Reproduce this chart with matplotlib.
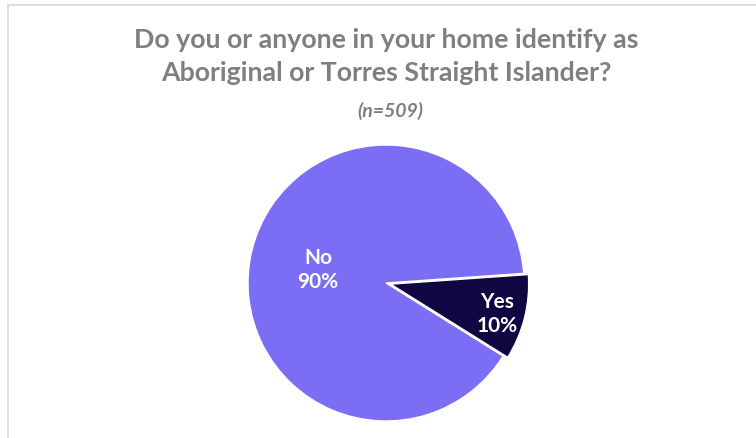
import matplotlib
matplotlib.use("Agg")
import matplotlib.pyplot as plt
from matplotlib.patches import Rectangle

labels = ["Yes", "No"]
values = [10, 90]
colors = ["#0F0642", "#7B6EF4"]

W, H = 756, 439
fig = plt.figure(figsize=(W / 100, H / 100), dpi=100)
fig.patch.set_facecolor("white")

# light border (extends beyond right/bottom edges)
fig.patches.append(Rectangle((8 / W, -0.1), 1.2, (H - 6) / H + 0.1, transform=fig.transFigure,
                             fill=False, edgecolor="#D9D9D9", linewidth=1.2))

title_font = ["Lato", "DejaVu Sans"]
fig.text(386 / W, 1 - 40 / H, "Do you or anyone in your home identify as", ha="center", va="center",
         fontsize=19.3, fontweight="bold", color="#7F7F7F", family=title_font)
fig.text(386 / W, 1 - 73 / H, "Aboriginal or Torres Straight Islander?", ha="center", va="center",
         fontsize=19.3, fontweight="bold", color="#7F7F7F", family=title_font)
fig.text(390 / W, 1 - 111 / H, "(n=509)", ha="center", va="center",
         fontsize=14, fontweight="bold", style="italic", color="#7F7F7F", family=title_font)

cx, cy, r = 386, 284, 138
ax = fig.add_axes([(cx - r) / W, (H - cy - r) / H, 2 * r / W, 2 * r / H])
wedges, _ = ax.pie(values, colors=colors, startangle=4, counterclock=False,
                   explode=[0.035, 0], radius=1,
                   wedgeprops=dict(edgecolor="white", linewidth=1.0))
for w in wedges:
    w.set_clip_on(False)
ax.set_xlim(-1, 1)
ax.set_ylim(-1, 1)
ax.set_aspect("equal")
ax.axis("off")

# data labels
lab_pos = {"No": (318, 270), "Yes": (497, 314)}
for lab, val in zip(labels, values):
    px, py = lab_pos[lab]
    fig.text(px / W, 1 - py / H, f"{lab}\n{val}%", ha="center", va="center",
             fontsize=15, fontweight="bold", color="white", family=title_font,
             linespacing=1.3)

fig.savefig("out.png", dpi=100)
